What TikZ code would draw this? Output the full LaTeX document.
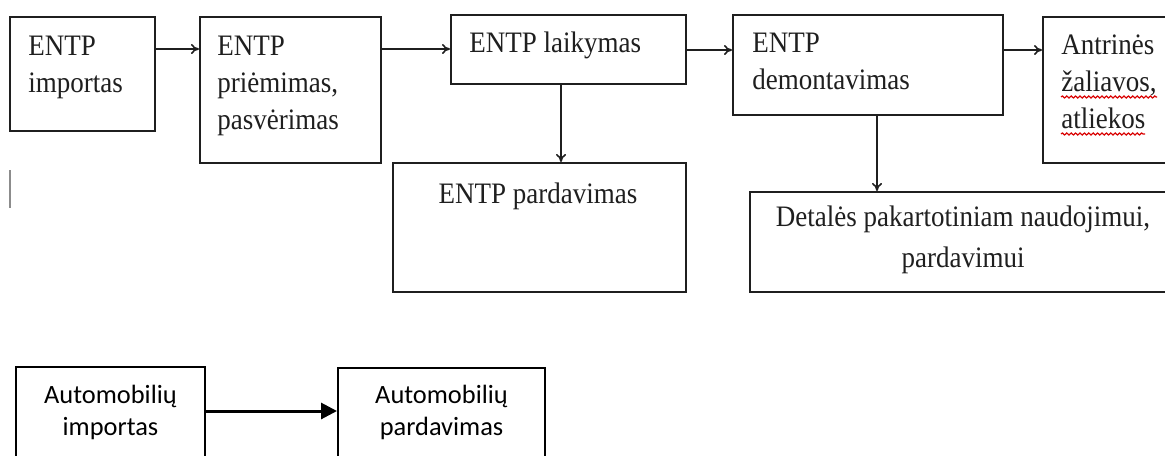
\documentclass[tikz,border=0pt]{standalone}
\usepackage{fontspec}
\setmainfont{Liberation Serif}
\newfontfamily\calibrifont{Carlito}
\usetikzlibrary{fit,arrows.meta,decorations.pathmorphing}
\begin{document}
\begin{tikzpicture}[x=0.5pt,y=-0.5pt,
  box/.style={draw=black!88, line width=1pt, inner sep=0pt},
  txt/.style={font=\fontsize{13.5}{16.8}\selectfont, inner sep=0pt, align=left, anchor=base west, text=black!88, yscale=1.1, transform shape},
  ctxt/.style={font=\fontsize{13.5}{18.2}\selectfont, inner sep=0pt, align=center, anchor=base, text=black!88, yscale=1.1, transform shape},
  stxt/.style={font=\calibrifont\fontsize{13.2}{16}\selectfont, inner sep=0pt, align=center, anchor=base},
  arr/.style={draw=black!88, line width=0.8pt, -{To[length=4pt,width=5pt]}},
  bigarr/.style={draw=black, line width=1.5pt, -{Triangle[length=8pt,width=8pt]}},
  squig/.style={draw=red!85!black, line width=0.6pt, decorate, decoration={snake, amplitude=0.5pt, segment length=2.2pt}}]
\clip (0,0) rectangle (1165,455);
\fill[white] (0,0) rectangle (1165,455);

% top row boxes
\node[box, fit={(10,17) (155,131)}] (b1) {};
\node[box, fit={(200,17) (381,163)}] (b2) {};
\node[box, fit={(451,15) (686,84)}] (b3) {};
\node[box, fit={(733,15) (1003,115)}] (b4) {};
\node[box, fit={(1043,17) (1185,163)}] (b5) {};
\node[box, fit={(393,163) (686,292)}] (b6) {};
\node[box, fit={(750,192) (1185,292)}] (b7) {};

% texts (base anchor = baseline of last line)
\node[txt] (t1) at (28,92) {ENTP\\importas};
\node[txt] (t2) at (217,129) {ENTP\\priėmimas,\\pasvėrimas};
\node[txt] (t3) at (469,52) {ENTP laikymas};
\node[txt] (t4) at (752,89) {ENTP\\demontavimas};
\node[txt] (t5) at (1061,128) {Antrinės\\žaliavos,\\atliekos};
\node[ctxt] (t6) at (538,203) {ENTP pardavimas};
\node[ctxt] (t7) at (963,267) {Detalės pakartotiniam naudojimui,\\pardavimui};

% spell-check squiggles
\coordinate (s1a) at (1061,97);
\coordinate (s1b) at (1157,97);
\coordinate (s2a) at (1061,134);
\coordinate (s2b) at (1145,134);
\draw[squig] (s1a) -- (s1b);
\draw[squig] (s2a) -- (s2b);

% connectors
\coordinate (r1) at (0,49);
\coordinate (r2) at (0,50);
\draw[arr] (b1.east |- r1) -- (b2.west |- r1);
\draw[arr] (b2.east |- r1) -- (b3.west |- r1);
\draw[arr] (b3.east |- r2) -- (b4.west |- r2);
\draw[arr] (b4.east |- r2) -- (b5.west |- r2);
\coordinate (c1) at (561,0);
\coordinate (c2) at (877,0);
\draw[arr] (b3.south -| c1) -- (b6.north -| c1);
\draw[arr] (b4.south -| c2) -- (b7.north -| c2);

% text cursor mark
\coordinate (k1) at (10,170);
\coordinate (k2) at (10,208);
\draw[black!45, line width=0.75pt] (k1) -- (k2);

% bottom row
\node[box, draw=black, fit={(16,367) (205,480)}] (a1) {};
\node[box, draw=black, fit={(338,368) (545,480)}] (a2) {};
\node[stxt] (u1) at (110.5,435) {Automobilių\\importas};
\node[stxt] (u2) at (441.5,435) {Automobilių\\pardavimas};
\coordinate (r3) at (0,411);
\draw[bigarr] (a1.east |- r3) -- (a2.west |- r3);
\end{tikzpicture}
\end{document}
